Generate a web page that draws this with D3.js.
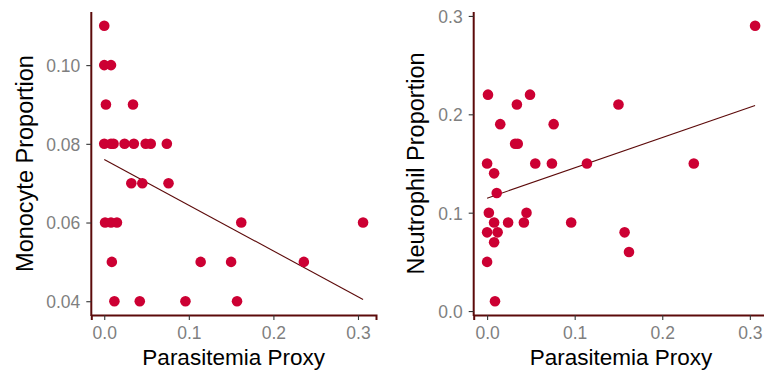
<!DOCTYPE html>
<meta charset="utf-8">

<style>
body { margin: 0; background: #fff; }
text { font-family: "Liberation Sans", Arial, sans-serif; }
.tickLabel { font-size: 17.5px; fill: #7f7f7f; }
.axisTitle { font-size: 22.5px; fill: #000; }
.yTitle { font-size: 23.5px; }
.dot { fill: #cc0033; }
.fitLine { fill: none; stroke: #5c0a0a; stroke-width: 1.1; }
</style>

<svg width="764" height="376"></svg>

<script src="https://cdnjs.cloudflare.com/ajax/libs/d3/7.8.5/d3.min.js"></script>
<script>

const svg = d3.select("svg")

//values, one entry per subject
const parasitemia = [0.000, 0.000, 0.000, 0.001, 0.002, 0.008, 0.008, 0.008, 0.009, 0.011,
                     0.012, 0.015, 0.024, 0.032, 0.034, 0.035, 0.042, 0.045, 0.049, 0.055,
                     0.074, 0.076, 0.096, 0.114, 0.150, 0.157, 0.162, 0.236, 0.306]
const monocyte = [0.11, 0.10, 0.08, 0.06, 0.09, 0.10, 0.08, 0.06, 0.05, 0.08,
                  0.04, 0.06, 0.08, 0.07, 0.09, 0.08, 0.04, 0.07, 0.08, 0.08,
                  0.08, 0.07, 0.04, 0.05, 0.05, 0.04, 0.06, 0.05, 0.06]
const neutrophil = [0.15, 0.08, 0.05, 0.22, 0.10, 0.14, 0.07, 0.09, 0.01, 0.12,
                    0.08, 0.19, 0.09, 0.17, 0.21, 0.17, 0.09, 0.10, 0.22, 0.15,
                    0.15, 0.19, 0.09, 0.15, 0.21, 0.08, 0.06, 0.15, 0.29]

const xTicks = [0, 0.1, 0.2, 0.3]
const monoTicks = [0.04, 0.06, 0.08, 0.10]
const neutTicks = [0, 0.1, 0.2, 0.3]

const xTitle = "Parasitemia Proxy"

//ggplot style 5% expansion
function expand(values) {
  const [lo, hi] = d3.extent(values)
  const pad = (hi - lo) * 0.05
  return [lo - pad, hi + pad]
}

//least squares fit
function linFit(xs, ys) {
  const mx = d3.mean(xs), my = d3.mean(ys)
  let sxy = 0, sxx = 0
  xs.forEach((x, i) => { sxy += (x - mx) * (ys[i] - my); sxx += (x - mx) * (x - mx) })
  const b = sxy / sxx
  return { a: my - b * mx, b: b }
}

function drawPanel(p) {
  const g = svg.append("g")

  const x = d3.scaleLinear().domain(expand(parasitemia)).range([p.left, p.right])
  const y = d3.scaleLinear().domain(expand(p.values)).range([p.bottom, p.top])

  //fit line over the data range
  const fit = linFit(parasitemia, p.values)
  const xr = d3.extent(parasitemia)
  const line = d3.line().x(d => x(d)).y(d => y(fit.a + fit.b * d))
  g.append("path")
      .attr("class", "fitLine")
      .attr("d", line(xr))

  g.selectAll(".dot")
      .data(parasitemia)
      .enter().append("circle")
      .attr("class", "dot")
      .attr("cx", d => x(d))
      .attr("cy", (d, i) => y(p.values[i]))
      .attr("r", 5.3)

  //axes
  const xAxis = g.append("g")
      .attr("transform", `translate(0, ${p.bottom})`)
      .call(d3.axisBottom(x).tickValues(xTicks).tickFormat(d3.format(".1f"))
        .tickSizeOuter(0).tickSize(5).tickPadding(7))
  const yAxis = g.append("g")
      .attr("transform", `translate(${p.left}, 0)`)
      .call(d3.axisLeft(y).tickValues(p.ticks).tickFormat(d3.format(p.fmt))
        .tickSizeOuter(0).tickSize(5).tickPadding(6))

  ;[xAxis, yAxis].forEach(a => {
    a.select(".domain").attr("stroke", "#5c0a0a").attr("stroke-width", 2)
    a.selectAll(".tick line").attr("stroke", "#333").attr("stroke-width", 1.1)
    a.selectAll(".tick text").attr("class", "tickLabel").attr("fill", null)
      .attr("font-family", null).attr("font-size", null)
  })
  yAxis.selectAll(".tick text").attr("dy", "0.36em")
  //keep the vertical axis line running through the corner
  yAxis.select(".domain").attr("d", `M0,${p.bottom + 1}V${p.top}`)

  g.append("text")
      .attr("class", "axisTitle")
      .attr("text-anchor", "middle")
      .attr("x", (p.left + p.right) / 2)
      .attr("y", 365)
      .text(xTitle)

  g.append("text")
      .attr("class", "axisTitle yTitle")
      .attr("text-anchor", "middle")
      .attr("transform", `translate(${p.titleX}, ${(p.top + p.bottom) / 2}) rotate(-90)`)
      .text(p.title)
}

drawPanel({
  values: monocyte, ticks: monoTicks, fmt: ".2f", title: "Monocyte Proportion",
  left: 91.3, right: 376, top: 12, bottom: 315, titleX: 32.5
})

drawPanel({
  values: neutrophil, ticks: neutTicks, fmt: ".1f", title: "Neutrophil Proportion",
  left: 473.7, right: 768.5, top: 12, bottom: 315, titleX: 424
})

</script>
